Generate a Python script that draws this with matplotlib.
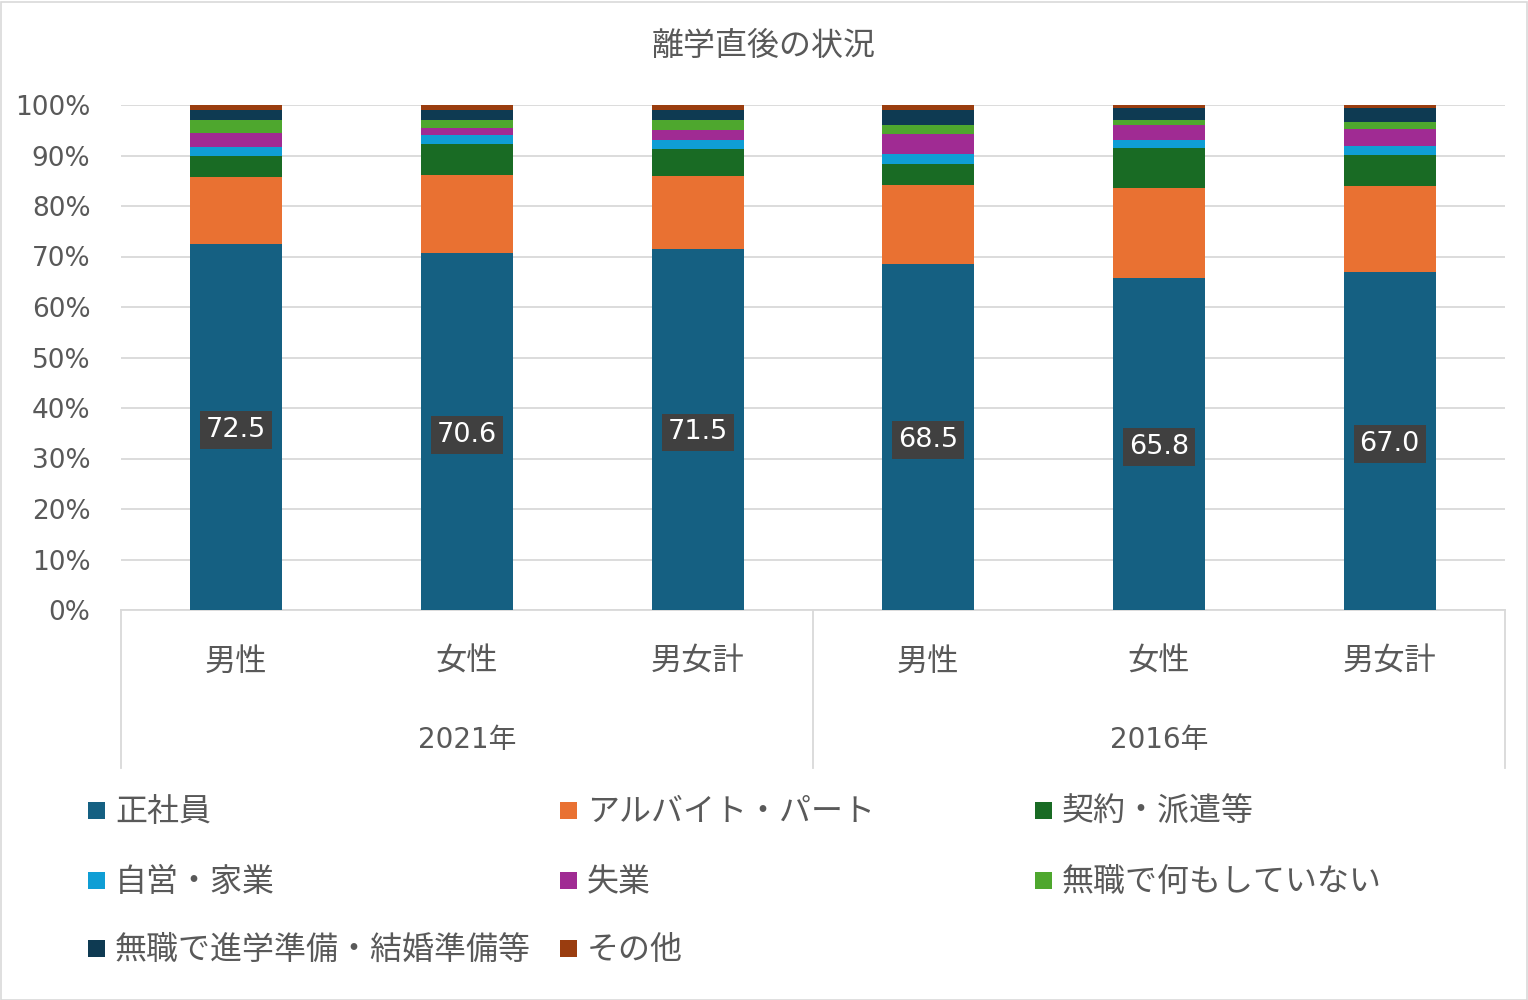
import matplotlib
matplotlib.use("Agg")
import matplotlib.pyplot as plt
from matplotlib.patches import Rectangle
from matplotlib.lines import Line2D
import numpy as np

FAM = ['DejaVu Sans', 'Noto Sans CJK JP']
CJK = ['Noto Sans CJK JP', 'DejaVu Sans']
plt.rcParams['font.family'] = CJK

title = "離学直後の状況"
years = ["2021年", "2016年"]
groups = ["男性", "女性", "男女計"]
series_names = ["正社員", "アルバイト・パート", "契約・派遣等", "自営・家業", "失業",
                "無職で何もしていない", "無職で進学準備・結婚準備等", "その他"]
# values per bar: 2021 男性, 女性, 男女計, 2016 男性, 女性, 男女計
seishain   = [72.5, 70.6, 71.5, 68.5, 65.8, 67.0]
arubaito   = [13.2, 15.5, 14.4, 15.7, 17.8, 17.0]
keiyaku    = [4.3, 6.2, 5.4, 4.1, 7.9, 6.1]
jiei       = [1.7, 1.8, 1.8, 2.0, 1.6, 1.8]
shitsugyo  = [2.7, 1.3, 1.9, 4.0, 2.9, 3.3]
mushoku    = [2.6, 1.6, 2.0, 1.7, 1.0, 1.4]
shingaku   = [2.0, 2.1, 2.0, 3.1, 2.4, 2.8]
sonota     = [1.0, 0.9, 1.0, 0.9, 0.6, 0.6]
colors = ["#156082", "#E97132", "#196B24", "#0F9ED5", "#A02B93", "#4EA72E", "#0E3A52", "#9A3D0F"]

series = [seishain, arubaito, keiyaku, jiei, shitsugyo, mushoku, shingaku, sonota]

TXT = "#595959"
W, H = 1528, 1000
fig = plt.figure(figsize=(W / 100, H / 100), dpi=100)
fig.patch.set_facecolor("white")
fig.add_artist(Rectangle((0.5 / W, 0.5 / H), (W - 2) / W, (H - 2) / H, transform=fig.transFigure,
                         fill=False, edgecolor="#d9d9d9", linewidth=1.2))

x0, x1, ytop, ybot = 121, 1505, 105, 610
ax = fig.add_axes([x0 / W, (H - ybot) / H, (x1 - x0) / W, (ybot - ytop) / H])

n = len(seishain)
x = np.arange(n)
bottom = np.zeros(n)
for vals, c in zip(series, colors):
    v = np.array(vals)
    ax.bar(x, v, width=0.4, bottom=bottom, color=c, zorder=3, linewidth=0)
    bottom += v

for xi, v in zip(x, seishain):
    ax.text(xi, v / 2, f"{v:.1f}", ha="center", va="center_baseline", color="white", fontsize=19.5,
            family=FAM, zorder=5,
            bbox=dict(boxstyle="square,pad=0.22", facecolor="#404040", edgecolor="none"))

ax.set_xlim(-0.5, n - 0.5)
ax.set_ylim(0, 100)
ax.set_yticks(np.arange(0, 101, 10))
ax.set_yticklabels([f"{t}%" for t in range(0, 101, 10)], family=FAM)
ax.tick_params(axis="y", length=0, labelsize=19, labelcolor=TXT, pad=22)
ax.set_xticks([])
ax.grid(axis="y", color="#d9d9d9", linewidth=1.3, zorder=0)
for s in ["top", "right", "left"]:
    ax.spines[s].set_visible(False)
ax.spines["bottom"].set_color("#d9d9d9")
ax.spines["bottom"].set_linewidth(1.3)

# multi-level category axis
cat_w = (x1 - x0) / n
for i in range(n):
    cx = x0 + cat_w * (i + 0.5)
    fig.text(cx / W, 1 - 662 / H, groups[i % 3], ha="center", va="center", fontsize=22.5, color=TXT)
for j, yr in enumerate(years):
    cx = x0 + cat_w * (3 * j + 1.5)
    fig.text(cx / W, 1 - 740 / H, yr, ha="center", va="center", fontsize=20, color=TXT, family=FAM)
for xs in [x0, x0 + cat_w * 3, x1]:
    fig.add_artist(Line2D([xs / W, xs / W], [1 - 610 / H, 1 - 768 / H], transform=fig.transFigure,
                          color="#d9d9d9", linewidth=1.3))

fig.text(764 / W, 1 - 46 / H, title, ha="center", va="center", fontsize=23, color=TXT)

# legend
col_x = [88, 560, 1035]
row_y = [810, 880, 948]
for i, (name, c) in enumerate(zip(series_names, colors)):
    r, cc = divmod(i, 3)
    lx, ly = col_x[cc], row_y[r]
    fig.add_artist(Rectangle((lx / W, 1 - (ly + 9) / H), 17 / W, 17 / H, transform=fig.transFigure,
                             facecolor=c, edgecolor="none"))
    fig.text((lx + 27) / W, 1 - (ly + 2) / H, name, ha="left", va="center", fontsize=23, color=TXT)

fig.savefig("out.png", dpi=100)
